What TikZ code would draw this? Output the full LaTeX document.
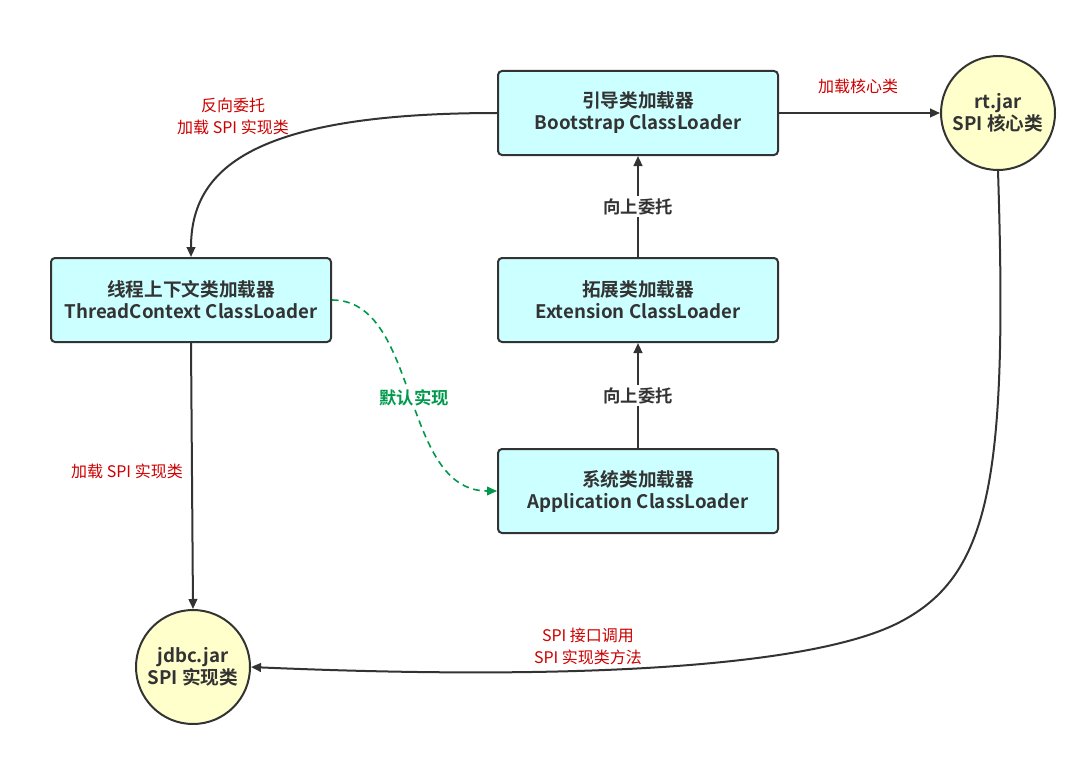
\documentclass[tikz,border=0pt]{standalone}
\usepackage{fontspec}
\setmainfont{Noto Sans CJK SC}[BoldFont={Noto Sans CJK SC Bold}]
\usetikzlibrary{arrows.meta}
\definecolor{boxfill}{HTML}{CCFFFF}
\definecolor{jarfill}{HTML}{FFFFCC}
\definecolor{ink}{HTML}{333333}
\definecolor{lblred}{HTML}{CC0000}
\definecolor{lblgreen}{HTML}{00994C}
\tikzset{
  loader/.style={draw=ink, line width=1.5pt, fill=boxfill, rounded corners=3pt,
    minimum width=210pt, minimum height=63pt, align=center, text=ink,
    font=\bfseries\fontsize{14}{16.5}\selectfont},
  jar/.style={draw=ink, line width=1.5pt, fill=jarfill, circle, minimum size=85.5pt,
    align=center, text=ink, inner sep=0pt, font=\bfseries\fontsize{14}{16.5}\selectfont},
  conn/.style={draw=ink, line width=1.5pt, -{Triangle[length=7.5pt,width=6.5pt]}},
  gconn/.style={draw=lblgreen, line width=1.2pt, dash pattern=on 5pt off 3.5pt,
    -{Triangle[length=7.5pt,width=6.5pt]}},
  redlbl/.style={text=lblred, align=center, font=\fontsize{12}{16.5}\selectfont},
  uplbl/.style={fill=white, text=ink, inner sep=2pt, font=\bfseries\fontsize{13}{15}\selectfont},
  greenlbl/.style={fill=white, text=lblgreen, inner sep=2pt, font=\bfseries\fontsize{13}{15}\selectfont}
}
\begin{document}
\begin{tikzpicture}[x=0.75pt,y=-0.75pt]
\useasboundingbox (0,0) rectangle (1087,770);
\node[loader] (boot) at (638,113) {引导类加载器\\Bootstrap ClassLoader};
\node[loader] (ext) at (638,300) {拓展类加载器\\Extension ClassLoader};
\node[loader] (app) at (638,491) {系统类加载器\\Application ClassLoader};
\node[loader] (tcl) at (191,300) {线程上下文类加载器\\ThreadContext ClassLoader};
\node[jar] (rt) at (998,113) {rt.jar\\SPI 核心类};
\node[jar] (jdbc) at (193,667) {jdbc.jar\\SPI 实现类};

\draw[conn] (boot.east) -- (rt.west);
\node[redlbl] (l1) at (858,86) {加载核心类};

\draw[conn] (ext.north) -- (boot.south) node[midway, uplbl] (u1) {向上委托};
\draw[conn] (app.north) -- (ext.south) node[midway, uplbl] (u2) {向上委托};

\draw[conn] (boot.west) .. controls (250,113) and (191,170) .. (tcl.north);
\node[redlbl] (l2) at (233,116) {反向委托\\加载 SPI 实现类};

\draw[conn] (tcl.south) -- (jdbc.north);
\node[redlbl] (l3) at (127,471) {加载 SPI 实现类};

\draw[gconn] (tcl.east) .. controls (420,300) and (400,491) .. (app.west);
\node[greenlbl] (g1) at (414,398) {默认实现};

\coordinate (bend) at (900,622);
\draw[conn] (rt.south) .. controls (1008,480) and (990,575) .. (bend)
  .. controls (820,664) and (600,682) .. (jdbc.east);
\node[redlbl] (l4) at (588,646) {SPI 接口调用\\SPI 实现类方法};
\end{tikzpicture}
\end{document}
